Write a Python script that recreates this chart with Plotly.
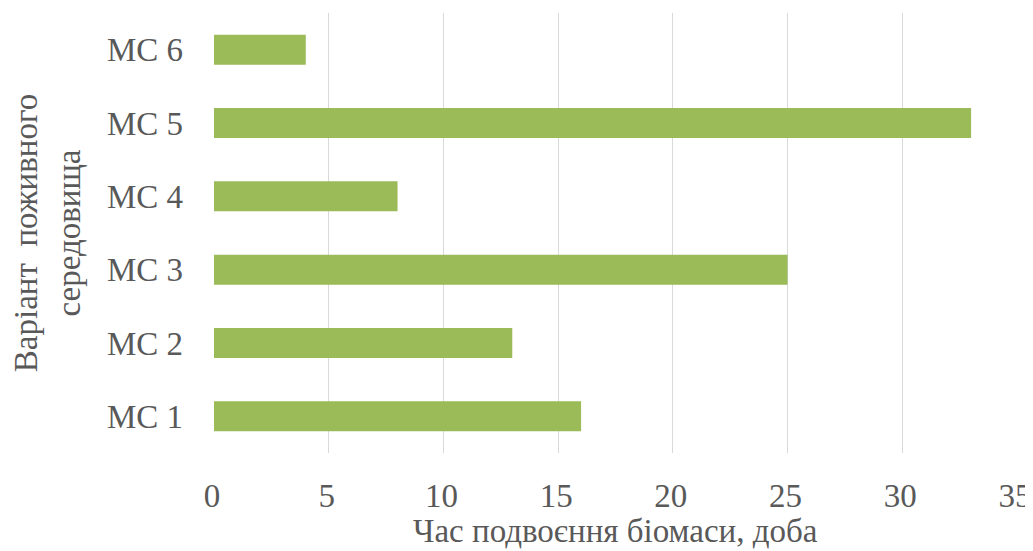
import plotly.graph_objects as go

categories = ["МС 1", "МС 2", "МС 3", "МС 4", "МС 5", "МС 6"]
values = [16, 13, 25, 8, 33, 4]
x_ticks = [0, 5, 10, 15, 20, 25, 30, 35]
x_title = "Час подвоєння біомаси, доба"
y_title = "Варіант  поживного<br>середовища"

FONT = "Liberation Serif"
GREY = "#595959"
FS = 33

fig = go.Figure(go.Bar(
    x=values, y=categories, orientation="h",
    marker=dict(color="#9bbb59", line=dict(width=0)),
))

# page body adds an 8px offset, so the figure is 8px smaller and shifted
fig.update_layout(
    width=1025, height=543,
    margin=dict(l=206, r=16, t=5, b=98, autoexpand=False),
    paper_bgcolor="white", plot_bgcolor="white",
    font=dict(family=FONT, size=FS, color=GREY),
    bargap=0.59,
    showlegend=False,
    xaxis=dict(
        range=[0, 35], tickvals=x_ticks, showgrid=True, automargin=False,
        gridcolor="#d9d9d9", gridwidth=1, zeroline=False,
        showline=False, ticks="", ticklabelstandoff=20, ticklabelshift=-2,
        ticklabeloverflow="allow",
        tickfont=dict(family=FONT, size=FS, color=GREY),
    ),
    yaxis=dict(
        categoryorder="array", categoryarray=categories, automargin=False,
        showgrid=False, zeroline=False, showline=False, ticks="",
        ticklabelstandoff=30,
        tickfont=dict(family=FONT, size=FS, color=GREY),
        title=dict(text=y_title, standoff=23,
                   font=dict(family=FONT, size=FS, color=GREY)),
    ),
    annotations=[dict(
        text=x_title, xref="paper", yref="paper", x=0.5, y=0,
        xanchor="center", yanchor="middle", yshift=-78, showarrow=False,
        font=dict(family=FONT, size=FS, color=GREY),
    )],
)

fig.write_html("out.html")
